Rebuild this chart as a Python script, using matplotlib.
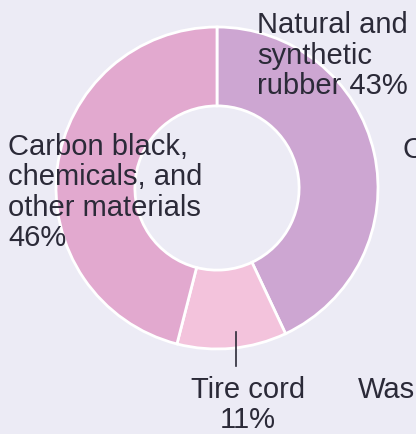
import matplotlib
matplotlib.use("Agg")
import matplotlib.pyplot as plt

categories = ["Natural and\nsynthetic\nrubber 43%", "Tire cord\n11%", "Carbon black,\nchemicals, and\nother materials\n46%"]
values = [43, 11, 46]
colors = ["#cda6d2", "#f3c3dc", "#e2a9cf"]

W, H = 416, 435
BG = "#ecebf5"
TXT = "#2b2a38"

fig = plt.figure(figsize=(W / 100, H / 100), dpi=100, facecolor=BG)
ax = fig.add_axes([0, 0, 1, 1])
ax.set_facecolor(BG)
ax.set_xlim(0, W)
ax.set_ylim(0, H)
ax.set_aspect("equal")
ax.axis("off")

cx, cy, R = 217, H - 189, 161
ax.pie(values, colors=colors, startangle=90, counterclock=False,
       center=(cx, cy), radius=R, frame=True,
       wedgeprops=dict(width=R * 0.49, edgecolor="white", linewidth=2))
ax.set_xlim(0, W)
ax.set_ylim(0, H)
ax.axis("off")

FS = 21
FAM = ["Liberation Sans", "DejaVu Sans"]
PITCH = 30.5


def lines(text, x, y_img, ha="left"):
    for i, ln in enumerate(text.split("\n")):
        ax.text(x, H - (y_img + i * PITCH), ln, ha=ha, va="baseline",
                fontsize=FS, family=FAM, color=TXT)


lines(categories[0], 257, 33)
lines(categories[2], 8, 155)
lines(categories[1], 248, 398, ha="center")
ax.plot([236, 236], [H - 333, H - 367], color=TXT, lw=1.2)

# partially visible labels of a neighbouring chart
ax.text(403, H - 158, "C", ha="left", va="baseline", fontsize=FS, family=FAM, color=TXT)
ax.text(358, H - 398, "Was", ha="left", va="baseline", fontsize=FS, family=FAM, color=TXT)

fig.savefig("out.png", dpi=100, facecolor=BG)
